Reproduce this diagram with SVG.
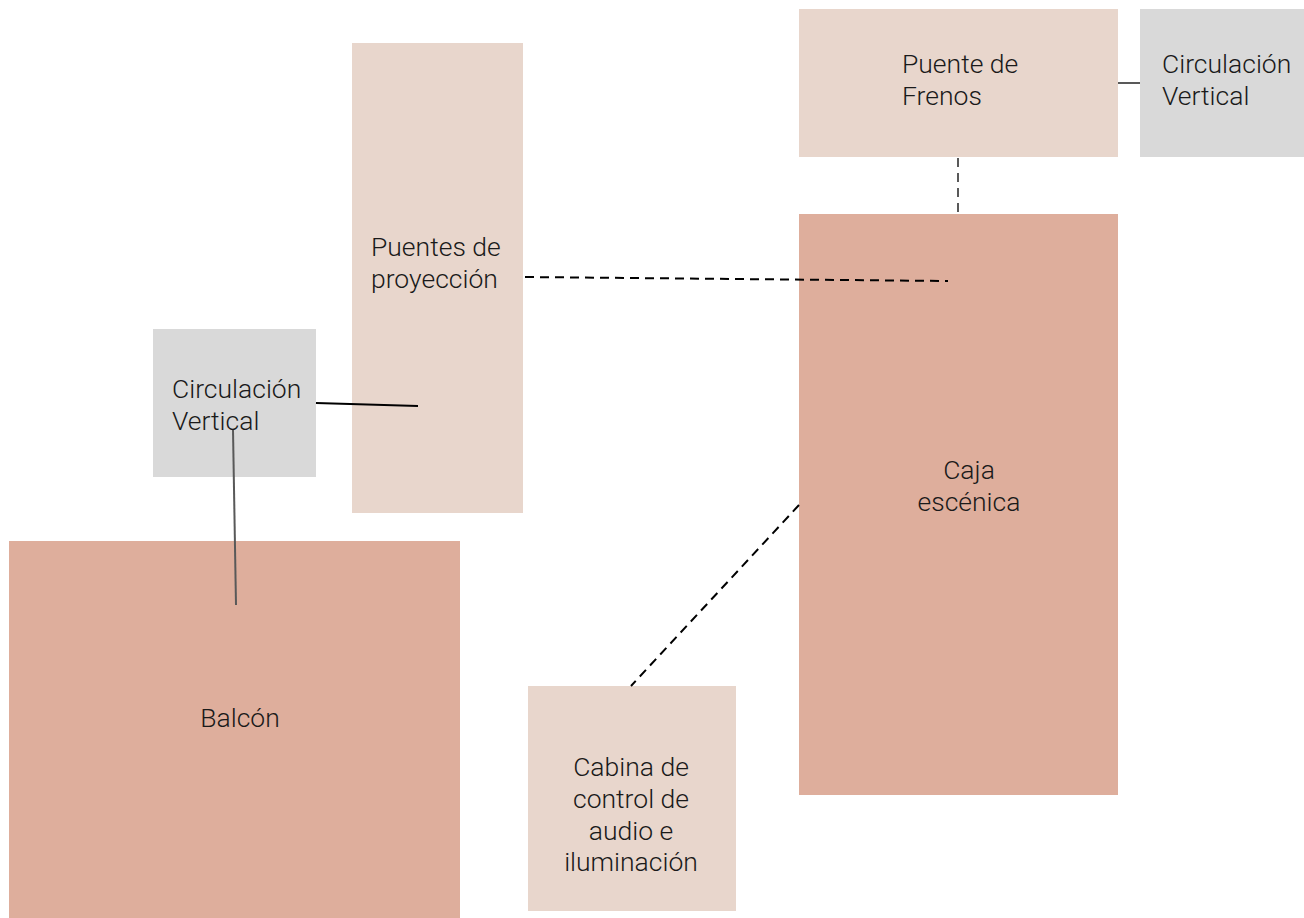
<svg xmlns="http://www.w3.org/2000/svg" width="1304" height="918" viewBox="0 0 1304 918">
<style>
.light{fill:#E8D6CC}
.dark{fill:#DEAE9C}
.gray{fill:#D9D9D9}
text{font-family:Roboto,"Liberation Sans",sans-serif;font-weight:300;font-size:26.5px;fill:#1a1a1a}
.c{text-anchor:middle}
.dash{stroke-dasharray:9 6;fill:none}
</style>
<rect width="1304" height="918" fill="#fff"/>
<g id="puente-frenos"><rect class="light" x="799" y="9" width="319" height="148"/><text x="902" y="73">Puente de</text><text x="902" y="105">Frenos</text></g>
<g id="circ-vertical-1"><rect class="gray" x="1140" y="9" width="164" height="148"/><text x="1162" y="73">Circulación</text><text x="1162" y="105">Vertical</text></g>
<g id="puentes-proyeccion"><rect class="light" x="352" y="43" width="171" height="470"/><text x="371" y="256">Puentes de</text><text x="371" y="288">proyección</text></g>
<g id="circ-vertical-2"><rect class="gray" x="153" y="329" width="163" height="148"/><text x="172" y="398">Circulación</text><text x="172" y="430">Vertical</text></g>
<g id="balcon"><rect class="dark" x="9" y="541" width="451" height="377"/><text class="c" x="240" y="727">Balcón</text></g>
<g id="caja-escenica"><rect class="dark" x="799" y="214" width="319" height="581"/><text class="c" x="969" y="479">Caja</text><text class="c" x="969" y="511">escénica</text></g>
<g id="cabina"><rect class="light" x="528" y="686" width="208" height="225"/><text class="c" x="631" y="776">Cabina de</text><text class="c" x="631" y="808">control de</text><text class="c" x="631" y="840">audio e</text><text class="c" x="631" y="871">iluminación</text></g>
<g id="connectors" stroke-width="2">
<line class="dash" x1="525" y1="277" x2="948" y2="281" stroke="#000"/>
<line class="dash" x1="958" y1="158" x2="958" y2="214" stroke="#595959"/>
<line x1="1118" y1="83" x2="1140" y2="83" stroke="#595959"/>
<line x1="316" y1="403" x2="418" y2="406" stroke="#000"/>
<line x1="233" y1="430" x2="236" y2="605" stroke="#595959"/>
<line class="dash" x1="799" y1="505" x2="631" y2="686" stroke="#000"/>
</g>
</svg>
